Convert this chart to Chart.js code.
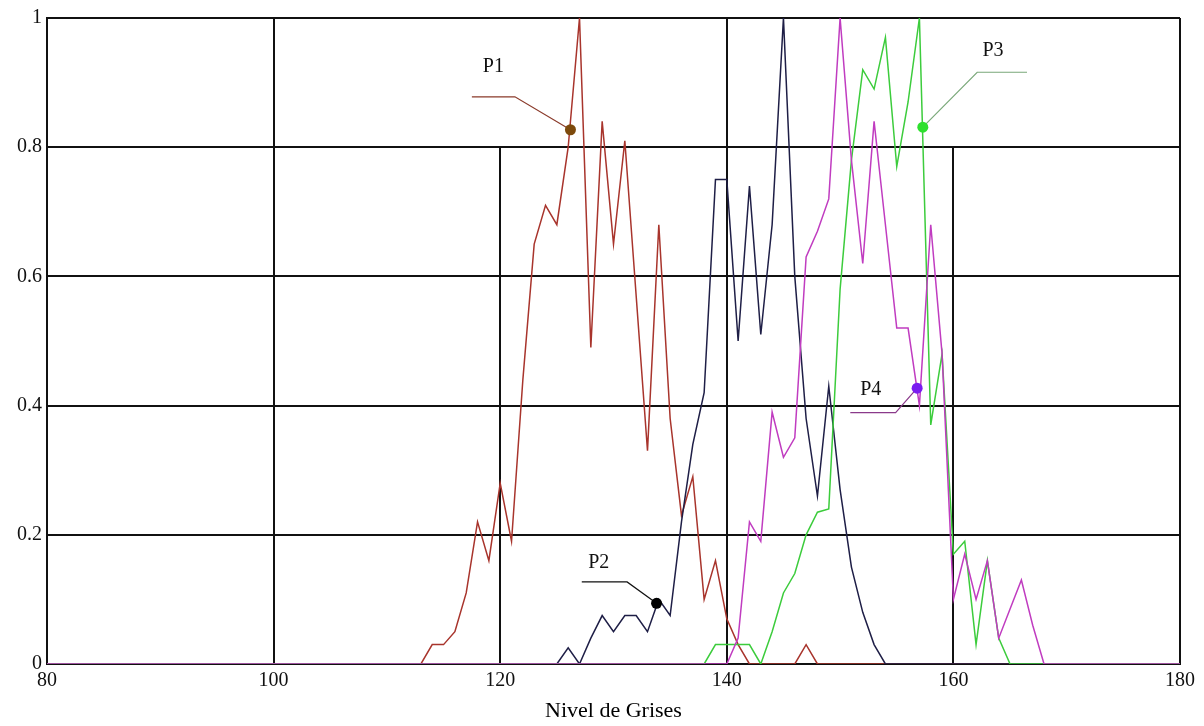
<!DOCTYPE html>
<html><head><meta charset="utf-8">
<script src="https://cdn.jsdelivr.net/npm/chart.js@4.4.1/dist/chart.umd.min.js"></script>
<style>html,body{margin:0;padding:0;background:#fff;}</style>
</head><body>
<canvas id="c" width="1204" height="726"></canvas>
<script>
// ---- data (gray level -> normalised frequency) ----
const xTicks = [80, 100, 120, 140, 160, 180];
const yTicks = [0, 0.2, 0.4, 0.6, 0.8, 1];
const xTitle = 'Nivel de Grises';

const p1Levels = [80, 113, 114, 115, 116, 117, 118, 119, 120, 121, 122, 123, 124, 125, 126, 127, 128, 129, 130, 131, 132, 133, 134, 135, 136, 137, 138, 139, 140, 141, 142, 146, 147, 148, 180];
const p1Values = [0, 0, 0.03, 0.03, 0.05, 0.11, 0.22, 0.16, 0.28, 0.19, 0.44, 0.65, 0.71, 0.68, 0.8, 1.0, 0.49, 0.84, 0.65, 0.81, 0.57, 0.33, 0.68, 0.38, 0.23, 0.29, 0.1, 0.16, 0.07, 0.03, 0, 0, 0.03, 0, 0];

const p2Levels = [80, 125, 126, 127, 128, 129, 130, 131, 132, 133, 134, 135, 136, 137, 138, 139, 140, 141, 142, 143, 144, 145, 146, 147, 148, 149, 150, 151, 152, 153, 154, 180];
const p2Values = [0, 0, 0.025, 0, 0.04, 0.075, 0.05, 0.075, 0.075, 0.05, 0.1, 0.075, 0.22, 0.34, 0.42, 0.75, 0.75, 0.5, 0.74, 0.51, 0.68, 1.0, 0.6, 0.38, 0.26, 0.43, 0.27, 0.15, 0.08, 0.03, 0, 0];

const p3Levels = [80, 138, 139, 140, 141, 142, 143, 144, 145, 146, 147, 148, 149, 150, 151, 152, 153, 154, 155, 156, 157, 158, 159, 160, 161, 162, 163, 164, 165, 180];
const p3Values = [0, 0, 0.03, 0.03, 0.03, 0.03, 0, 0.05, 0.11, 0.14, 0.2, 0.235, 0.24, 0.58, 0.78, 0.92, 0.89, 0.97, 0.77, 0.87, 1.0, 0.37, 0.48, 0.17, 0.19, 0.03, 0.16, 0.04, 0, 0];

const p4Levels = [80, 140, 141, 142, 143, 144, 145, 146, 147, 148, 149, 150, 151, 152, 153, 154, 155, 156, 157, 158, 159, 160, 161, 162, 163, 164, 165, 166, 167, 168, 180];
const p4Values = [0, 0, 0.04, 0.22, 0.19, 0.39, 0.32, 0.35, 0.63, 0.67, 0.72, 1.0, 0.78, 0.62, 0.84, 0.68, 0.52, 0.52, 0.4, 0.68, 0.48, 0.1, 0.17, 0.1, 0.16, 0.04, 0.085, 0.13, 0.06, 0, 0];

const seriesNames = ['P1', 'P2', 'P3', 'P4'];

// ---- callout labels (data coordinates) ----
const calloutDotX   = [126.2, 133.8, 157.3, 156.8];
const calloutDotY   = [0.827, 0.094, 0.831, 0.427];
const calloutElbowX = [121.3, 131.2, 162.1, 154.9];
const calloutElbowY = [0.878, 0.127, 0.916, 0.389];
const calloutTailX  = [117.5, 127.2, 166.5, 150.9];
const calloutTextX  = [119.4, 128.7, 163.5, 152.7];
const calloutTextY  = [0.924, 0.156, 0.950, 0.424];

// ---- styling ----
const lineColors = ['#a8342c', '#1e1e46', '#3ccc3c', '#c03cc0'];
const dotColors  = ['#7d4a0c', '#000000', '#2ee02e', '#7a1cf0'];
const leaderColors = ['#8a3a2a', '#111111', '#7aa87a', '#8a3a8a'];
const drawOrder = [3, 2, 1, 0];
const partialGridX = [120, 160];
const partialGridTop = 0.8;

function pts(xs, ys) { return xs.map((x, i) => ({ x: x, y: ys[i] })); }
const allLevels = [p1Levels, p2Levels, p3Levels, p4Levels];
const allValues = [p1Values, p2Values, p3Values, p4Values];

const datasets = seriesNames.map((n, i) => ({
  label: n,
  data: pts(allLevels[i], allValues[i]),
  borderColor: lineColors[i],
  backgroundColor: lineColors[i],
  borderWidth: 1.5,
  pointRadius: 0,
  tension: 0,
  fill: false,
  order: drawOrder[i]
}));

const gridPlugin = {
  id: 'partialGrid',
  beforeDatasetsDraw(chart) {
    const { ctx, scales: { x, y } } = chart;
    ctx.save();
    ctx.strokeStyle = '#111';
    ctx.lineWidth = 2;
    partialGridX.forEach(v => {
      const px = Math.round(x.getPixelForValue(v));
      ctx.beginPath();
      ctx.moveTo(px, y.getPixelForValue(partialGridTop));
      ctx.lineTo(px, y.getPixelForValue(0));
      ctx.stroke();
    });
    ctx.restore();
  }
};

const calloutPlugin = {
  id: 'callouts',
  afterDatasetsDraw(chart) {
    const { ctx, scales: { x, y } } = chart;
    ctx.save();
    seriesNames.forEach((n, i) => {
      const dx = x.getPixelForValue(calloutDotX[i]), dy = y.getPixelForValue(calloutDotY[i]);
      const ex = x.getPixelForValue(calloutElbowX[i]), ey = y.getPixelForValue(calloutElbowY[i]);
      const tx = x.getPixelForValue(calloutTailX[i]);
      ctx.strokeStyle = leaderColors[i];
      ctx.lineWidth = 1.2;
      ctx.beginPath();
      ctx.moveTo(tx, ey);
      ctx.lineTo(ex, ey);
      ctx.lineTo(dx, dy);
      ctx.stroke();
      ctx.fillStyle = dotColors[i];
      ctx.beginPath();
      ctx.arc(dx, dy, 5.5, 0, Math.PI * 2);
      ctx.fill();
      ctx.fillStyle = '#111';
      ctx.font = '20px "Liberation Serif", serif';
      ctx.textAlign = 'center';
      ctx.textBaseline = 'middle';
      ctx.fillText(n, x.getPixelForValue(calloutTextX[i]), y.getPixelForValue(calloutTextY[i]));
    });
    ctx.restore();
  }
};

new Chart(document.getElementById('c'), {
  type: 'line',
  data: { datasets: datasets },
  options: {
    responsive: false,
    devicePixelRatio: 1,
    animation: false,
    layout: { padding: { top: 18, right: 24, left: 0, bottom: 0 } },
    plugins: { legend: { display: false }, tooltip: { enabled: false } },
    scales: {
      x: {
        type: 'linear',
        min: xTicks[0], max: xTicks[xTicks.length - 1],
        afterBuildTicks(s) { s.ticks = xTicks.map(v => ({ value: v })); },
        afterFit(s) { s.height = 62; },
        ticks: { color: '#111', padding: 5, callback: (v) => String(v),
                 font: { family: '"Liberation Serif", serif', size: 20 } },
        grid: {
          drawTicks: false,
          lineWidth: 2,
          color: (c) => partialGridX.includes(c.tick && c.tick.value) ? 'rgba(0,0,0,0)' : '#111'
        },
        border: { display: true, color: '#111', width: 2 },
        title: { display: true, text: xTitle, color: '#000', padding: { top: 0, bottom: 2 },
                 font: { family: '"Liberation Serif", serif', size: 22 } }
      },
      y: {
        type: 'linear',
        min: yTicks[0], max: yTicks[yTicks.length - 1],
        afterBuildTicks(s) { s.ticks = yTicks.map(v => ({ value: v })); },
        afterFit(s) { s.width = 47; },
        ticks: { color: '#111', padding: 5, callback: (v) => String(v),
                 font: { family: '"Liberation Serif", serif', size: 20 } },
        grid: { drawTicks: false, lineWidth: 2, color: '#111' },
        border: { display: true, color: '#111', width: 2 }
      }
    }
  },
  plugins: [gridPlugin, calloutPlugin]
});
</script>
</body></html>
